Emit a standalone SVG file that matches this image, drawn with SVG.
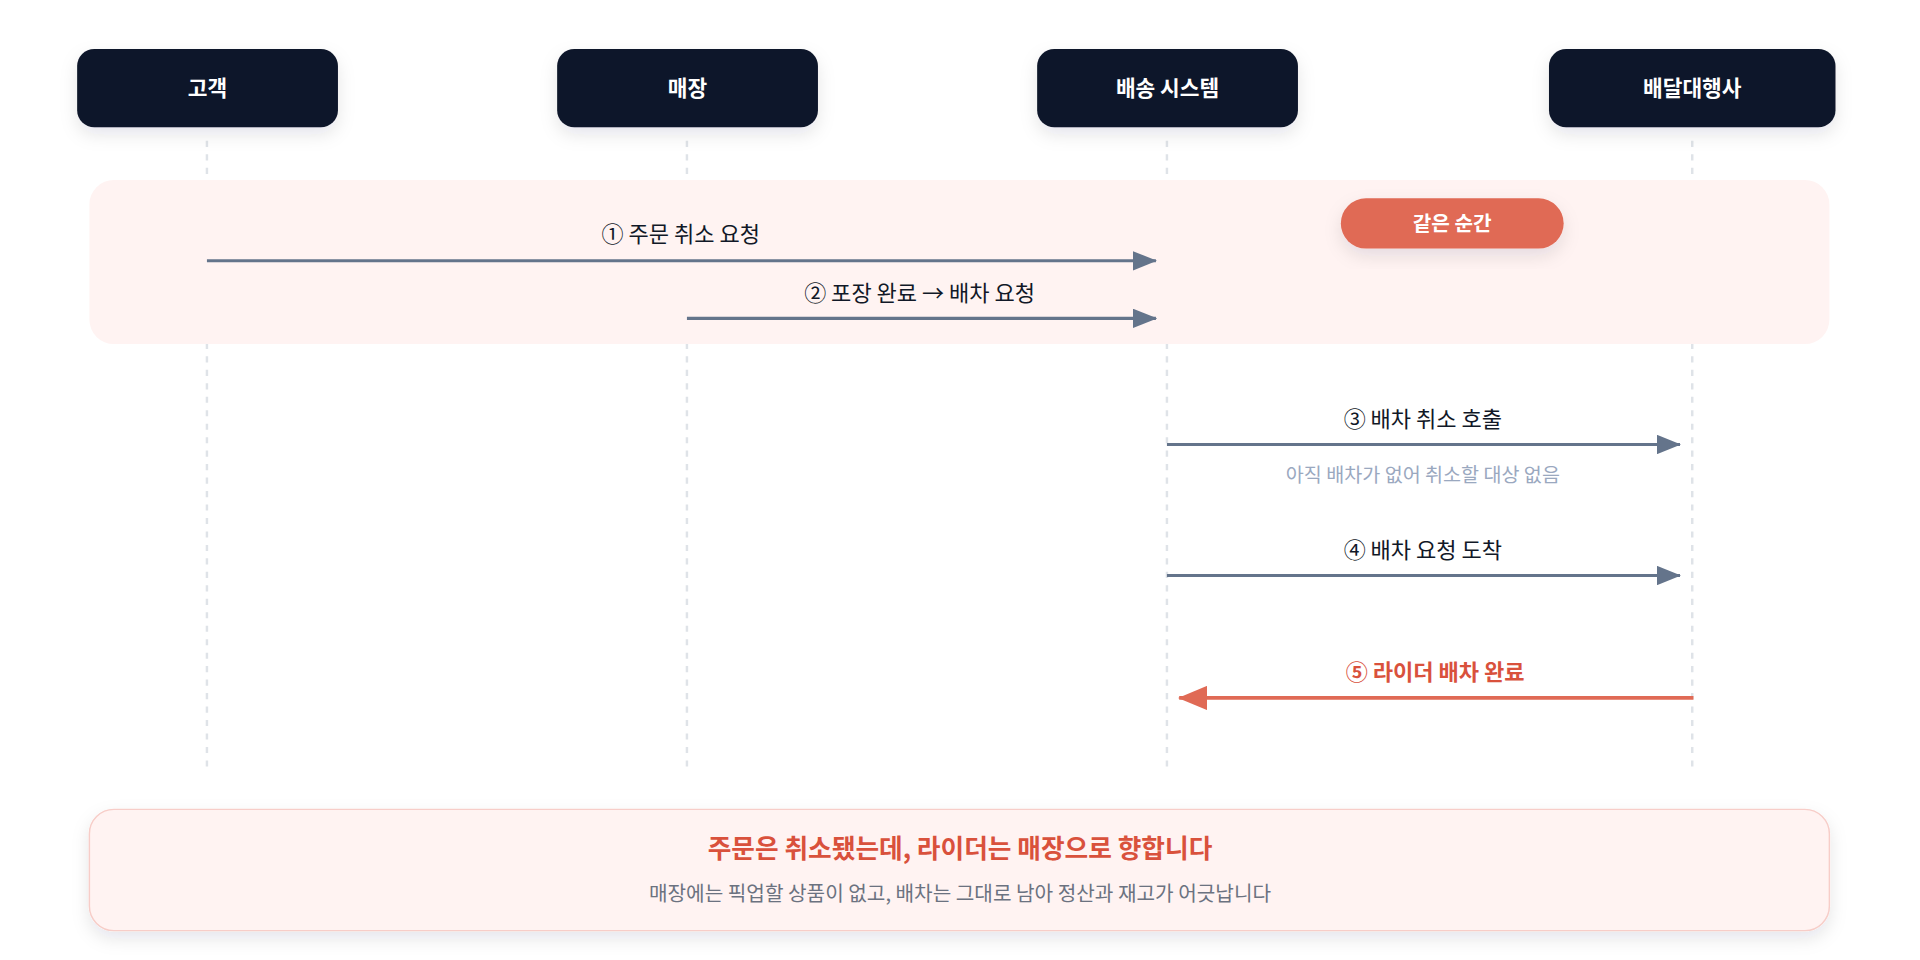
<svg xmlns="http://www.w3.org/2000/svg" width="1920" height="960" viewBox="0 0 1920 960">
<defs>
<style>
text{font-family:"Noto Sans CJK KR","Noto Sans",sans-serif;text-anchor:middle}
.node rect{fill:#0f172a}
.node text{fill:#fff;font-size:17.5px;font-weight:700}
.life{stroke:#dfe3e8;stroke-width:2;stroke-dasharray:5 6}
.msg{stroke:#64748b;stroke-width:2.5;fill:none}
.lbl{font-size:18px;fill:#111827}
</style>
<marker id="ah" viewBox="0 0 20 16" refX="19" refY="8" markerWidth="20" markerHeight="16" markerUnits="userSpaceOnUse" orient="auto"><path d="M0 0L20 8L0 16Z" fill="#64748b"/></marker>
<marker id="ahr" viewBox="0 0 24 20" refX="23" refY="10" markerWidth="24" markerHeight="20" markerUnits="userSpaceOnUse" orient="auto"><path d="M0 0L24 10L0 20Z" fill="#e06a55"/></marker>
<filter id="sh" x="-20%" y="-20%" width="140%" height="160%"><feDropShadow dx="0" dy="6" stdDeviation="7" flood-color="#0f172a" flood-opacity="0.1"/></filter>
</defs>
<rect width="1920" height="960" fill="#fff"/>
<g transform="scale(1.22449)">
<g id="lifelines">
<line class="life" x1="169" y1="115" x2="169" y2="628"/>
<line class="life" x1="561" y1="115" x2="561" y2="628"/>
<line class="life" x1="953" y1="115" x2="953" y2="628"/>
<line class="life" x1="1382" y1="115" x2="1382" y2="628"/>
</g>
<g id="band"><rect x="73" y="147" width="1421" height="134" rx="20" fill="#fff3f2"/></g>
<g id="pill"><rect x="1095" y="162" width="182" height="41" rx="20.5" fill="#e06a55" filter="url(#sh)"/><text x="1186" y="189" fill="#fff" font-size="16.5" font-weight="700">같은 순간</text></g>
<g id="n1" class="node"><rect x="63" y="40" width="213" height="64" rx="14" filter="url(#sh)"/><text x="169.5" y="78">고객</text></g>
<g id="n2" class="node"><rect x="455" y="40" width="213" height="64" rx="14" filter="url(#sh)"/><text x="561.5" y="78">매장</text></g>
<g id="n3" class="node"><rect x="847" y="40" width="213" height="64" rx="14" filter="url(#sh)"/><text x="953.5" y="78">배송 시스템</text></g>
<g id="n4" class="node"><rect x="1265" y="40" width="234" height="64" rx="14" filter="url(#sh)"/><text x="1382" y="78">배달대행사</text></g>
<g id="connectors">
<line class="msg" x1="169" y1="213" x2="944" y2="213" marker-end="url(#ah)"/>
<text class="lbl" x="556" y="198">① 주문 취소 요청</text>
<line class="msg" x1="561" y1="260" x2="944" y2="260" marker-end="url(#ah)"/>
<text class="lbl" x="751" y="246">② 포장 완료 → 배차 요청</text>
<line class="msg" x1="953" y1="363" x2="1372" y2="363" marker-end="url(#ah)"/>
<text class="lbl" x="1162" y="349">③ 배차 취소 호출</text>
<text x="1162" y="394" font-size="16" fill="#9aa8bf">아직 배차가 없어 취소할 대상 없음</text>
<line class="msg" x1="953" y1="470" x2="1372" y2="470" marker-end="url(#ah)"/>
<text class="lbl" x="1162" y="456">④ 배차 요청 도착</text>
<line x1="1383" y1="570" x2="963" y2="570" stroke="#e06a55" stroke-width="3" marker-end="url(#ahr)"/>
<text x="1172" y="555" font-size="18" font-weight="700" fill="#d9513c">⑤ 라이더 배차 완료</text>
</g>
<g id="summary">
<rect x="73" y="661" width="1421" height="99" rx="20" fill="#fff3f2" stroke="#f7cdc8" stroke-width="1.2" filter="url(#sh)"/>
<text x="784" y="701" font-size="21" font-weight="700" fill="#d9513c">주문은 취소됐는데, 라이더는 매장으로 향합니다</text>
<text x="784" y="736" font-size="16.5" fill="#6b7280">매장에는 픽업할 상품이 없고, 배차는 그대로 남아 정산과 재고가 어긋납니다</text>
</g>
</g>
</svg>
